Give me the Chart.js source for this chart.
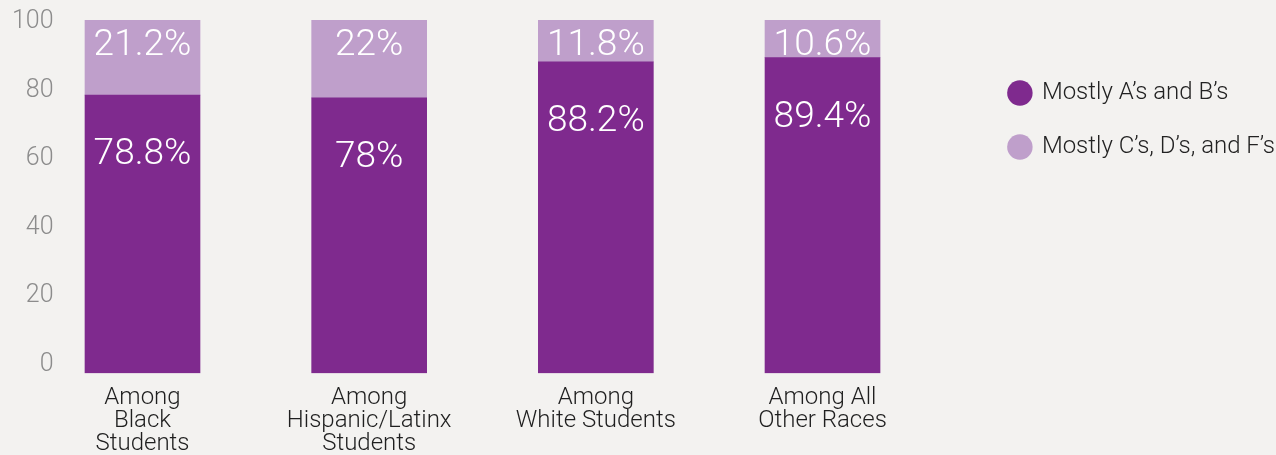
<!DOCTYPE html>
<html>
<head>
<meta charset="utf-8">
<script src="https://cdn.jsdelivr.net/npm/chart.js@4/dist/chart.umd.min.js"></script>
<style>
  html, body { margin: 0; padding: 0; background: #f3f2f0; }
  #wrap { width: 1276px; height: 455px; position: relative; }
  canvas { display: block; }
</style>
</head>
<body>
<div id="wrap"><canvas id="c" width="1276" height="455"></canvas></div>
<script>
// ---- data ----
const categories = [
  ["Among", "Black", "Students"],
  ["Among", "Hispanic/Latinx", "Students"],
  ["Among", "White Students"],
  ["Among All", "Other Races"]
];
const seriesNames = ["Mostly A\u2019s and B\u2019s", "Mostly C\u2019s, D\u2019s, and F\u2019s"];
const mostlyAB = [78.8, 78, 88.2, 89.4];
const mostlyCDF = [21.2, 22, 11.8, 10.6];
const yTickValues = [0, 20, 40, 60, 80, 100];

// ---- styles ----
const DARK = '#7f2a8e';
const LIGHT = '#bf9fcb';
const FONT = 'Roboto';

const firstCenterPx = 142.5, pxPerCategory = 226.67;

const labelPlugin = {
  id: 'segLabels',
  afterDatasetsDraw(chart) {
    const ctx = chart.ctx;
    const m0 = chart.getDatasetMeta(0), m1 = chart.getDatasetMeta(1);
    ctx.save();
    ctx.fillStyle = '#ffffff';
    ctx.font = '300 37px ' + FONT;
    ctx.textAlign = 'center';
    ctx.textBaseline = 'middle';
    m0.data.forEach((el, i) => {
      ctx.fillText(mostlyAB[i] + '%', el.x, el.y + 60);
    });
    m1.data.forEach((el, i) => {
      ctx.fillText(mostlyCDF[i] + '%', el.x, el.y + 25);
    });
    ctx.restore();
  }
};

function build() {
  const chart = new Chart(document.getElementById('c'), {
    type: 'bar',
    data: {
      datasets: [
        { label: seriesNames[0], data: mostlyAB.map((v, i) => ({ x: i, y: v })),
          backgroundColor: DARK, barThickness: 115, yAxisID: 'y', xAxisID: 'x' },
        { label: seriesNames[1], data: mostlyCDF.map((v, i) => ({ x: i, y: v })),
          backgroundColor: LIGHT, barThickness: 115, yAxisID: 'y', xAxisID: 'x' }
      ]
    },
    options: {
      responsive: false,
      animation: false,
      devicePixelRatio: 1,
      layout: { padding: { top: 15, left: 12, right: -9, bottom: -14 } },
      plugins: {
        tooltip: { enabled: false },
        legend: {
          position: 'right',
          align: 'start',
          title: { display: true, text: ' ', font: { size: 20, lineHeight: 1 }, padding: { top: 0, bottom: 16 } },
          labels: {
            usePointStyle: true,
            pointStyle: 'circle',
            boxWidth: 20,
            boxHeight: 18,
            padding: 30,
            color: '#222222',
            font: { family: FONT, size: 24, weight: 300, lineHeight: 1 }
          }
        }
      },
      scales: {
        x: {
          type: 'linear',
          stacked: true,
          offset: false,
          min: -0.5, max: 3.5,
          grid: { display: false, drawTicks: false, offset: false },
          border: { display: false },
          afterBuildTicks: s => { s.ticks = categories.map((c, i) => ({ value: i })); },
          ticks: {
            autoSkip: false, maxRotation: 0, minRotation: 0,
            padding: 13,
            color: '#1f1f1f',
            font: { family: FONT, size: 24, weight: 300, lineHeight: 0.97 },
            callback: v => categories[v]
          }
        },
        y: {
          stacked: true,
          min: 0, max: 101.5,
          display: false
        },
        yt: {
          type: 'linear',
          position: 'left',
          min: -2.54, max: 102.05,
          grid: { display: false, drawTicks: false },
          border: { display: false },
          afterBuildTicks: s => { s.ticks = yTickValues.map(v => ({ value: v })); },
          ticks: {
            padding: 0,
            color: '#8c8c8c',
            font: { family: FONT, size: 25, weight: 300, lineHeight: 1 },
            callback: v => String(v)
          }
        }
      }
    },
    plugins: [labelPlugin]
  });
  const L = chart.chartArea.left, R = chart.chartArea.right;
  chart.options.scales.x.min = -(firstCenterPx - L) / pxPerCategory;
  chart.options.scales.x.max = (categories.length - 1) + (R - (firstCenterPx + (categories.length - 1) * pxPerCategory)) / pxPerCategory;
  chart.update();
}

if (document.fonts && document.fonts.load) {
  Promise.all([
    document.fonts.load('300 24px Roboto'),
    document.fonts.load('300 37px Roboto'),
    document.fonts.load('300 25px Roboto')
  ]).then(build, build);
} else {
  build();
}
</script>
</body>
</html>
